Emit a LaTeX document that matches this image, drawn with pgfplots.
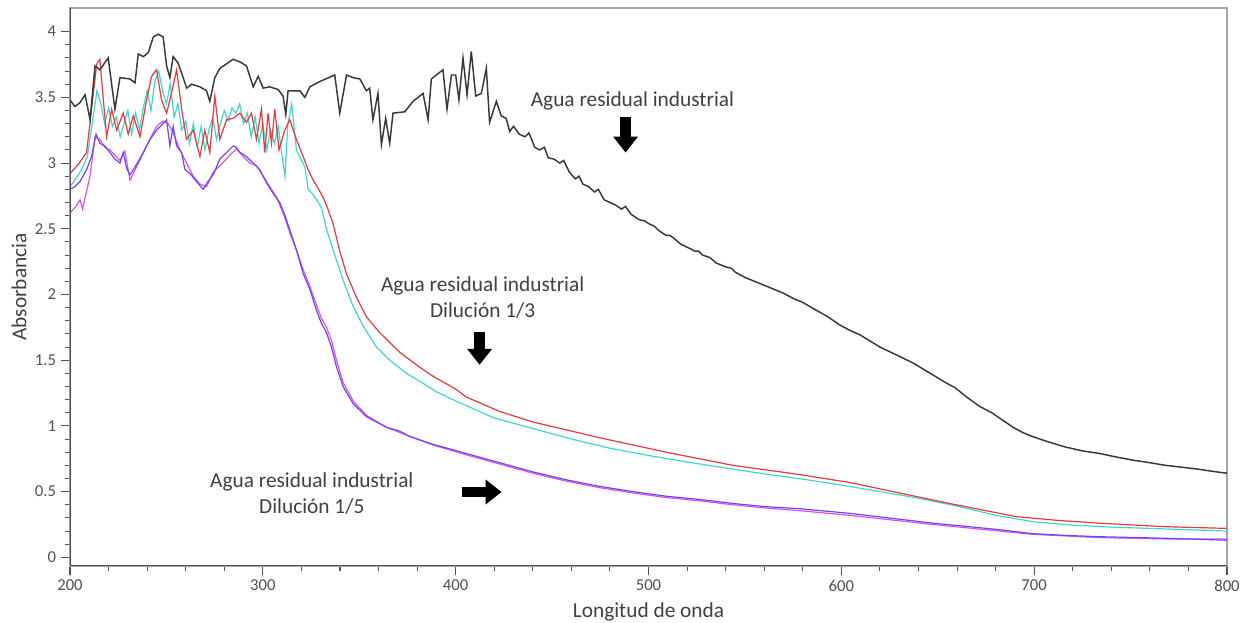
\documentclass[border=0pt]{standalone}
\usepackage{fontspec}
\setmainfont{Carlito}
\usepackage{pgfplots}
\pgfplotsset{compat=1.18}
\usetikzlibrary{arrows.meta}

\definecolor{cblack}{HTML}{383838}
\definecolor{cred}{HTML}{E8383C}
\definecolor{ccyan}{HTML}{3ED8D0}
\definecolor{cblue}{HTML}{6A48F0}
\definecolor{cmag}{HTML}{E050E8}
\definecolor{txt}{HTML}{404040}
\definecolor{tickc}{HTML}{505050}

\begin{document}
\begin{tikzpicture}
\useasboundingbox (0,0) rectangle (930pt,467.25pt);
\begin{axis}[
  at={(52.5pt,42.75pt)}, anchor=south west,
  scale only axis, width=867.75pt, height=418.5pt,
  xmin=200, xmax=800, ymin=-0.066, ymax=4.18,
  xtick={200,300,...,800}, ytick={0,0.5,...,4},
  minor x tick num=4, minor y tick num=4,
  tick align=outside, tick pos=left,
  major tick length=7pt, minor tick length=4pt,
  every tick/.style={color=tickc, line width=0.8pt},
  axis line style={color=gray!70, line width=1.2pt},
  ticklabel style={font=\fontsize{12.5}{14}\selectfont, text=tickc},
  /pgf/number format/assume math mode=true,
  xlabel={Longitud de onda}, ylabel={Absorbancia},
  label style={font=\fontsize{16}{19}\selectfont, text=txt},
  xlabel style={at={(axis description cs:0.5,-0.0824)}, anchor=center},
  ylabel style={at={(axis description cs:-0.0441,0.5)}, anchor=center},
]
% cyan (1/3 replicate)
\addplot[ccyan, line width=0.9pt] coordinates {
(200,2.82)(203,2.88)(206,2.95)(209,3.05)(212,3.35)(214,3.55)(216,3.45)(218,3.30)(220,3.42)(222,3.28)(224,3.35)(226,3.20)(228,3.30)(230,3.40)(232,3.22)(234,3.38)(236,3.25)(238,3.42)(240,3.55)(242,3.40)(244,3.62)(246,3.70)(248,3.55)(250,3.45)(252,3.60)(254,3.35)(256,3.45)(258,3.25)(260,3.32)(262,3.15)(264,3.30)(266,3.12)(268,3.28)(270,3.10)(272,3.25)(274,3.35)(276,3.18)(278,3.30)(280,3.40)(282,3.32)(284,3.42)(286,3.38)(288,3.45)(290,3.30)(292,3.38)(294,3.20)(296,3.35)(298,3.15)(300,3.30)(302,3.10)(304,3.25)(306,3.15)(308,3.28)(310,3.05)(311.5,2.90)(313,3.30)(315,3.45)(317.4,3.10)(321.8,2.97)(323.5,2.80)(326.1,2.76)(330.4,2.66)(333,2.50)(336.4,2.34)(341.6,2.11)(346.8,1.91)(352,1.76)(358.9,1.60)(365.8,1.50)(374.4,1.40)(381.3,1.34)(390,1.26)(400,1.19)(420,1.06)(440,0.98)(460,0.90)(480,0.83)(500,0.775)(520,0.725)(540,0.68)(560,0.635)(580,0.595)(600,0.55)(620,0.50)(640,0.45)(660,0.39)(680,0.32)(700,0.27)(720,0.245)(740,0.23)(760,0.22)(780,0.21)(800,0.20)
};
% red (1/3)
\addplot[cred, line width=0.9pt] coordinates {
(200,2.92)(204.3,2.99)(208.6,3.08)(211.2,3.41)(213.8,3.75)(215.5,3.79)(217.3,3.48)(219,3.20)(221.6,3.41)(224.2,3.25)(227.6,3.38)(230.2,3.22)(232.8,3.36)(236.3,3.20)(239.7,3.48)(242.3,3.66)(244.9,3.71)(247.5,3.48)(250.1,3.38)(252.6,3.53)(255.3,3.71)(257.9,3.41)(260.4,3.18)(263.9,3.25)(267.4,3.05)(269.9,3.25)(272.5,3.08)(275.1,3.51)(277.7,3.18)(281.2,3.33)(284.6,3.34)(288.1,3.38)(291.5,3.31)(294.1,3.38)(296.7,3.18)(299.3,3.41)(301,3.08)(302.7,3.38)(304.5,3.15)(306.2,3.41)(308.4,3.10)(311.4,3.25)(314,3.33)(317.4,3.18)(320.9,3.05)(323.5,2.95)(326.1,2.87)(329,2.80)(331.2,2.74)(333.5,2.66)(336.4,2.54)(339.9,2.33)(343.3,2.16)(348.5,1.98)(353.7,1.83)(360.6,1.71)(371,1.56)(381,1.45)(388,1.38)(400,1.28)(405.5,1.22)(422.8,1.11)(440,1.03)(457.3,0.97)(474.6,0.91)(491.9,0.855)(509.1,0.80)(526.4,0.75)(543.7,0.70)(561,0.665)(578.2,0.63)(604.1,0.57)(630,0.49)(656,0.41)(673.2,0.36)(690.5,0.31)(713,0.28)(733.7,0.26)(751,0.246)(768.2,0.233)(800,0.22)
};
% magenta (1/5 replicate)
\addplot[cmag, line width=0.9pt] coordinates {
(200,2.62)(202.5,2.66)(205.2,2.72)(206.5,2.65)(208,2.75)(210.4,2.90)(213,3.20)(215.5,3.18)(218,3.12)(220.7,3.10)(225.9,3.02)(228.5,3.09)(231.1,2.87)(234.5,2.97)(239.7,3.13)(244.9,3.28)(248.3,3.32)(250.9,3.30)(253.5,3.23)(257,3.10)(260.5,3.00)(263.9,2.90)(267.4,2.84)(270.8,2.82)(274.2,2.93)(277.7,2.98)(282.9,3.06)(286.4,3.11)(289.8,3.05)(293.3,3.00)(296.7,2.98)(300.2,2.90)(303.6,2.82)(307.1,2.74)(310.5,2.62)(314,2.47)(317.4,2.34)(320.9,2.19)(324.4,2.06)(327.8,1.92)(330.4,1.82)(333,1.75)(335.6,1.65)(338.2,1.50)(341.6,1.33)(346.8,1.19)(353.7,1.08)(364.1,0.99)(376.2,0.92)(388.2,0.855)(405.5,0.78)(422.8,0.71)(440,0.64)(457.3,0.58)(474.6,0.53)(491.9,0.49)(509.1,0.455)(526.4,0.43)(543.7,0.40)(561,0.375)(578.2,0.355)(604.1,0.32)(647.3,0.25)(682,0.20)(699.1,0.175)(733.7,0.15)(768.2,0.14)(800,0.14)
};
% blue (1/5)
\addplot[cblue, line width=0.9pt] coordinates {
(200,2.80)(202.5,2.82)(205.2,2.86)(208.6,2.95)(211.2,3.05)(213.5,3.22)(215.5,3.15)(218.1,3.13)(220.7,3.08)(223.3,3.03)(225.9,3.00)(227.6,3.08)(229.4,2.96)(231.1,2.91)(234.5,2.99)(238,3.08)(241.5,3.18)(244.9,3.25)(248.3,3.30)(250.1,3.33)(251.8,3.13)(253.5,3.28)(255.3,3.13)(257.9,3.08)(259.6,2.95)(262.2,2.92)(265.6,2.86)(269,2.80)(271.6,2.86)(274.2,2.91)(277.7,3.03)(281.2,3.08)(284.6,3.13)(286.3,3.12)(288.1,3.08)(291.5,3.05)(295,3.00)(298.4,2.95)(301.9,2.85)(305.3,2.77)(308.8,2.70)(311.5,2.60)(314,2.49)(317.4,2.34)(320.9,2.16)(324.4,2.04)(327.8,1.88)(330.4,1.78)(333,1.71)(335.6,1.60)(338.2,1.45)(341.6,1.30)(346.8,1.17)(353.7,1.07)(364.1,0.99)(371,0.96)(376.2,0.92)(388.2,0.86)(405.5,0.79)(422.8,0.72)(440,0.65)(457.3,0.59)(474.6,0.54)(491.9,0.50)(509.1,0.465)(526.4,0.44)(543.7,0.41)(561,0.385)(578.2,0.37)(604.1,0.335)(612.8,0.32)(647.3,0.26)(665,0.235)(682,0.21)(699.1,0.18)(716,0.167)(733.7,0.157)(768.2,0.145)(800,0.13)
};
% black (agua residual industrial)
\addplot[cblack, line width=1.1pt] coordinates {
(200,3.48)(202.6,3.43)(205.2,3.46)(207.8,3.52)(210.4,3.33)(213,3.74)(215.5,3.71)(219.8,3.80)(223.3,3.41)(225.9,3.65)(231.1,3.64)(233.7,3.61)(235.4,3.83)(238,3.81)(240.6,3.84)(243.2,3.96)(245.8,3.98)(248.3,3.96)(250.1,3.74)(251.8,3.65)(253.5,3.81)(256.1,3.76)(258.7,3.65)(260.5,3.57)(263,3.60)(267.4,3.58)(270.8,3.55)(272.5,3.47)(275.1,3.65)(277.7,3.72)(284.6,3.79)(288.1,3.77)(291.5,3.74)(295,3.58)(297.6,3.66)(300.2,3.57)(303.6,3.58)(307.9,3.56)(310.5,3.51)(311.9,3.37)(313.1,3.55)(319.2,3.55)(321.8,3.50)(324.4,3.58)(329.5,3.62)(337.3,3.67)(339.9,3.38)(343.4,3.67)(346.8,3.65)(350.3,3.64)(353.7,3.55)(355.4,3.57)(357.1,3.33)(359.7,3.53)(361.5,3.14)(363.7,3.34)(365.8,3.15)(367.5,3.38)(373.6,3.39)(377.9,3.47)(383.1,3.53)(385.7,3.33)(387.4,3.64)(393.4,3.71)(395.5,3.41)(397.8,3.67)(400,3.67)(401.7,3.48)(403.8,3.80)(405.9,3.52)(408.1,3.85)(410.4,3.51)(413.3,3.53)(415.9,3.72)(417.6,3.31)(421.1,3.47)(423.6,3.36)(426.2,3.34)(428,3.24)(430,3.28)(433,3.22)(436,3.20)(438,3.23)(441,3.12)(443.5,3.10)(446,3.12)(448,3.04)(451,3.03)(454,3.00)(456,3.02)(459,2.93)(462,2.88)(464,2.90)(466,2.84)(469,2.82)(472,2.78)(474,2.80)(477,2.72)(480,2.70)(483,2.68)(486,2.65)(488,2.67)(491,2.61)(495,2.57)(498,2.56)(500,2.54)(503,2.52)(505,2.49)(509,2.45)(511,2.45)(513,2.43)(517,2.38)(520,2.36)(524,2.33)(526,2.33)(528,2.30)(532,2.28)(535,2.24)(540,2.21)(543,2.20)(545,2.17)(550,2.13)(555,2.10)(560,2.07)(565,2.04)(570,2.01)(575,1.97)(580,1.94)(587,1.88)(593,1.83)(599,1.77)(604,1.73)(610,1.69)(620,1.60)(630,1.53)(637,1.48)(645,1.41)(654,1.33)(659,1.29)(665,1.22)(671.5,1.15)(678,1.10)(683,1.05)(689,0.99)(694,0.95)(699,0.92)(707,0.88)(716,0.84)(725,0.81)(734,0.79)(742,0.765)(751,0.74)(760,0.72)(768,0.70)(777,0.685)(785.5,0.67)(792,0.655)(800,0.64)
};
% darker left and bottom spines
\draw[color=tickc, line width=1.2pt] (axis description cs:0,1) -- (axis description cs:0,0) -- (axis description cs:1,0);
% annotations
\node[text=txt, font=\fontsize{16}{19}\selectfont] at (axis cs:491.7,3.475) {Agua residual industrial};
\draw[black, line width=8pt, -{Triangle[width=18pt,length=12pt]}] (axis cs:488.1,3.35) -- (axis cs:488.1,3.08);
\node[text=txt, font=\fontsize{16}{19.5}\selectfont, align=center] at (axis cs:414,1.975) {Agua residual industrial\\Dilución 1/3};
\draw[black, line width=8pt, -{Triangle[width=18pt,length=12pt]}] (axis cs:412.4,1.716) -- (axis cs:412.4,1.465);
\node[text=txt, font=\fontsize{16}{19.5}\selectfont, align=center] at (axis cs:325.4,0.486) {Agua residual industrial\\Dilución 1/5};
\draw[black, line width=8pt, -{Triangle[width=18pt,length=12pt]}] (axis cs:403.1,0.497) -- (axis cs:423.8,0.497);
\end{axis}
\end{tikzpicture}
\end{document}
